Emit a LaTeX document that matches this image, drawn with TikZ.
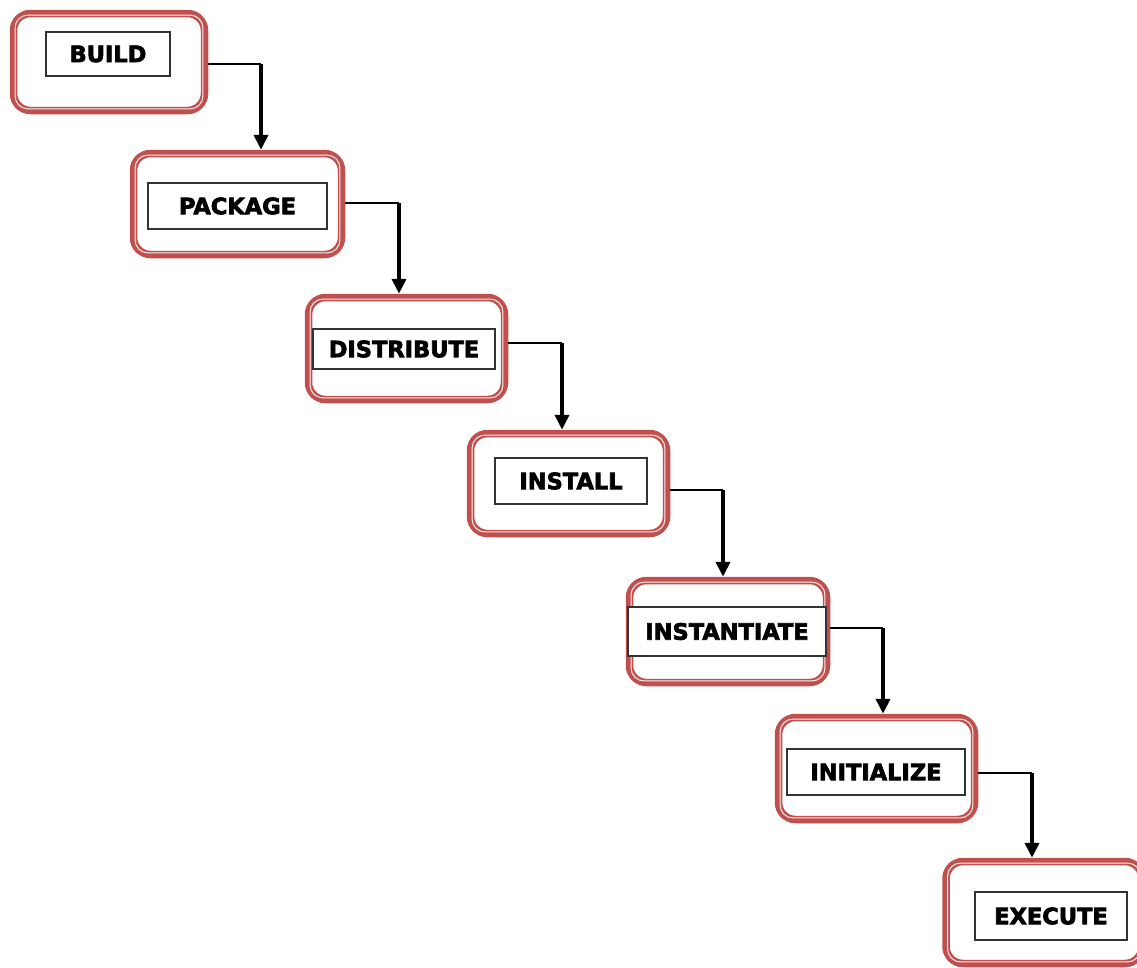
\documentclass[tikz,border=0pt]{standalone}
\usepackage{fontspec}
\setmainfont{DejaVu Sans}
\newfontfamily\heavyfont[FakeBold=3]{DejaVu Sans Bold}
\usetikzlibrary{arrows.meta}
\definecolor{boxred}{HTML}{C0504D}
\begin{document}
\begin{tikzpicture}[x=1pt,y=-1pt,
  outerbox/.style={draw=boxred,line width=7.5pt,rounded corners=17pt,inner sep=0pt},
  whiteline/.style={draw=white,draw opacity=0.9,line width=1pt,rounded corners=13pt},
  innerbox/.style={draw=black!80,line width=1.4pt,fill=white,inner sep=0pt,
    font=\fontsize{22.5}{24}\heavyfont},
  hline/.style={line width=1.5pt,black},
  arr/.style={line width=4pt,black,-{Triangle[length=15pt,width=14pt]}}]
\useasboundingbox (0,0) rectangle (1137,967);
\clip (0,0) rectangle (1137,967);
% outer boxes
\node[outerbox,minimum width=191pt,minimum height=97pt] (b1) at (109,62) {};
\node[outerbox,minimum width=208pt,minimum height=101pt] (b2) at (237.5,204) {};
\node[outerbox,minimum width=196pt,minimum height=102pt] (b3) at (406.5,348.5) {};
\node[outerbox,minimum width=196pt,minimum height=100pt] (b4) at (568.5,483.5) {};
\node[outerbox,minimum width=197pt,minimum height=102pt] (b5) at (728,631.5) {};
\node[outerbox,minimum width=196pt,minimum height=102pt] (b6) at (876.5,768.5) {};
\node[outerbox,minimum width=196pt,minimum height=102pt] (b7) at (1044,912.5) {};
\foreach \b in {b1,b2,b3,b4,b5,b6,b7}
  \draw[whiteline] ([shift={(5.3,5.3)}]\b.north west) rectangle ([shift={(-5.3,-5.3)}]\b.south east);
% inner boxes
\node[innerbox,minimum width=124pt,minimum height=44pt] (t1) at (108,54) {BUILD};
\node[innerbox,minimum width=179pt,minimum height=46pt] (t2) at (237.5,206) {PACKAGE};
\node[innerbox,minimum width=182pt,minimum height=40pt] (t3) at (404,349) {DISTRIBUTE};
\node[innerbox,minimum width=152pt,minimum height=46pt] (t4) at (571,481) {INSTALL};
\node[innerbox,minimum width=198pt,minimum height=49pt] (t5) at (727,631.5) {INSTANTIATE};
\node[innerbox,minimum width=178pt,minimum height=46pt] (t6) at (876,772) {INITIALIZE};
\node[innerbox,minimum width=152pt,minimum height=48pt] (t7) at (1051,916) {EXECUTE};
% connectors
\coordinate (k1) at (261,64);
\coordinate (k2) at (399,203);
\coordinate (k3) at (562,343);
\coordinate (k4) at (723,490);
\coordinate (k5) at (883,628);
\coordinate (k6) at (1032,773);
\draw[hline] (b1.east |- k1) -- (k1);
\draw[arr] (k1) -- (k1 |- b2.north);
\draw[hline] (b2.east |- k2) -- (k2);
\draw[arr] (k2) -- (k2 |- b3.north);
\draw[hline] (b3.east |- k3) -- (k3);
\draw[arr] (k3) -- (k3 |- b4.north);
\draw[hline] (b4.east |- k4) -- (k4);
\draw[arr] (k4) -- (k4 |- b5.north);
\draw[hline] (b5.east |- k5) -- (k5);
\draw[arr] (k5) -- (k5 |- b6.north);
\draw[hline] (b6.east |- k6) -- (k6);
\draw[arr] (k6) -- (k6 |- b7.north);
\end{tikzpicture}
\end{document}
